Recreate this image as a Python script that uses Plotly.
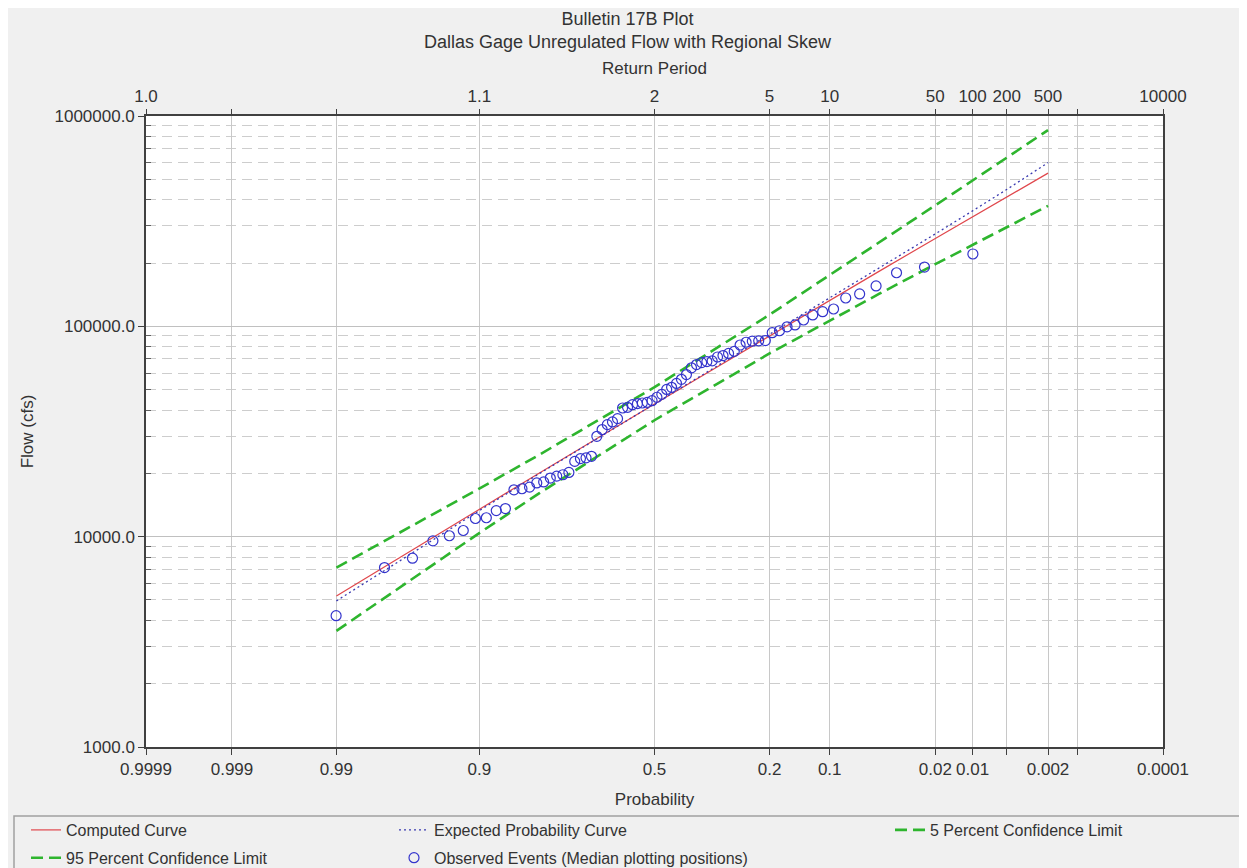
import plotly.graph_objects as go
from statistics import NormalDist

# ---------------- data ----------------
curve_prob = [0.99, 0.95, 0.9, 0.8, 0.5, 0.2, 0.1, 0.05, 0.02, 0.01, 0.005, 0.002]
computed_curve = [5220, 9720, 13510, 20100, 42760, 90270, 133100, 183000, 261700, 331700, 411900, 535000]
expected_curve = [4950, 9450, 13300, 19950, 42760, 91000, 135500, 188500, 275000, 354000, 447000, 600000]
conf_5pct = [7130, 12500, 16920, 24530, 51400, 113600, 174800, 250300, 376100, 493500, 633500, 856500]
conf_95pct = [3565, 7197, 10400, 16110, 35770, 74340, 106800, 142900, 197500, 244200, 296400, 373800]

obs_prob = [0.00994, 0.02415, 0.03835, 0.05256, 0.06676, 0.08097, 0.09517, 0.10938, 0.12358, 0.13778,
            0.15199, 0.16619, 0.18040, 0.19460, 0.20881, 0.22301, 0.23722, 0.25142, 0.26563, 0.27983,
            0.29403, 0.30824, 0.32244, 0.33665, 0.35085, 0.36506, 0.37926, 0.39347, 0.40767, 0.42188,
            0.43608, 0.45028, 0.46449, 0.47869, 0.49290, 0.50710, 0.52131, 0.53551, 0.54972, 0.56392,
            0.57813, 0.59233, 0.60653, 0.62074, 0.63494, 0.64915, 0.66335, 0.67756, 0.69176, 0.70597,
            0.72017, 0.73438, 0.74858, 0.76278, 0.77699, 0.79119, 0.80540, 0.81960, 0.83381, 0.84801,
            0.86222, 0.87642, 0.89063, 0.90483, 0.91903, 0.93324, 0.94744, 0.96165, 0.97585, 0.99006]
obs_flow = [220800, 191400, 179800, 155600, 142600, 136400, 120900, 117400, 113300, 107200,
            101500, 99500, 95300, 93300, 85600, 85300, 85000, 84000, 81500, 76000,
            74300, 72600, 71500, 68500, 68000, 67200, 65800, 63500, 59000, 56000,
            53500, 51300, 50100, 47500, 46000, 44300, 43500, 43200, 42900, 42400,
            41200, 40900, 36400, 35100, 34100, 32300, 30000, 24100, 23700, 23500,
            22800, 20200, 19700, 19400, 19000, 18200, 18000, 17200, 16900, 16700,
            13600, 13300, 12300, 12200, 10700, 10100, 9550, 7900, 7130, 4210]

tick_prob = [0.9999, 0.999, 0.99, 0.9, 0.5, 0.2, 0.1, 0.02, 0.01, 0.005, 0.002, 0.001, 0.0001]
prob_labels = ["0.9999", "0.999", "0.99", "0.9", "0.5", "0.2", "0.1", "0.02", "0.01", "", "0.002", "", "0.0001"]
return_labels = ["1.0", "", "", "1.1", "2", "5", "10", "50", "100", "200", "500", "", "10000"]

y_major = [1000, 10000, 100000, 1000000]
y_major_labels = ["1000.0", "10000.0", "100000.0", "1000000.0"]
y_minor = [m * d for d in (1000, 10000, 100000) for m in range(2, 10)]

# ------------- probability scale (normal quantile) -------------
nd = NormalDist()


def zpos(p):
    return nd.inv_cdf(1 - p)


xr = [zpos(0.9999), zpos(0.0001)]
cx = [zpos(p) for p in curve_prob]

FONT = "Liberation Sans, Arial, sans-serif"
TXT = "#333333"

OFF = 8  # page body margin
W, H = 1239, 860
L, R, T, B = 138, 84, 108, 121
PW, PH = W - L - R, H - T - B


def px(xpage):
    return (xpage - OFF - L) / PW


def py(ypage):
    return (OFF + H - B - ypage) / PH


fig = go.Figure()
fig.add_trace(go.Scatter(x=cx, y=computed_curve, mode="lines", name="Computed Curve",
                         line=dict(color="#e0474c", width=1.2),
                         legend="legend", legendgroup="g1"))
fig.add_trace(go.Scatter(x=cx, y=expected_curve, mode="lines", name="Expected Probability Curve",
                         line=dict(color="#3a3ab0", width=1.3, dash="2px,3px"),
                         legend="legend2", legendgroup="g2"))
fig.add_trace(go.Scatter(x=cx, y=conf_5pct, mode="lines", name="5 Percent Confidence Limit",
                         line=dict(color="#2eb52e", width=2.6, dash="12px,6px"),
                         legend="legend3", legendgroup="g3"))
fig.add_trace(go.Scatter(x=cx, y=conf_95pct, mode="lines", name="95 Percent Confidence Limit",
                         line=dict(color="#2eb52e", width=2.6, dash="12px,6px"),
                         legend="legend", legendgroup="g4"))
fig.add_trace(go.Scatter(x=[zpos(p) for p in obs_prob], y=obs_flow, mode="markers",
                         name="Observed Events (Median plotting positions)",
                         marker=dict(symbol="circle-open", size=10, color="#3434cc",
                                     line=dict(width=1.2, color="#3434cc")),
                         legend="legend2", legendgroup="g5"))
# invisible trace to activate the top (return period) axis
fig.add_trace(go.Scatter(x=xr, y=[1000, 1000], xaxis="x2", mode="lines",
                         line=dict(width=0), showlegend=False, hoverinfo="skip"))

tickz = [zpos(p) for p in tick_prob]

fig.update_layout(
    width=W, height=H,
    paper_bgcolor="#f0f0f0", plot_bgcolor="#ffffff",
    margin=dict(l=L, r=R, t=T, b=B, autoexpand=False),
    font=dict(family=FONT, size=17, color=TXT),
    title=dict(text="Bulletin 17B Plot<br>Dallas Gage Unregulated Flow with Regional Skew",
               x=0.5, xanchor="center", y=1 - 17 / H, yanchor="top",
               font=dict(family=FONT, size=18, color=TXT)),
    xaxis=dict(range=xr, tickmode="array", tickvals=tickz, ticktext=prob_labels,
               tickangle=0, ticks="outside", ticklen=6, tickcolor="#404040",
               showline=True, linecolor="#404040", linewidth=1.5, mirror=True,
               showgrid=True, gridcolor="#c8c8c8", gridwidth=1, zeroline=False,
               automargin=False,
               title=dict(text="Probability", standoff=15, font=dict(size=17)),
               tickfont=dict(size=17, color=TXT)),
    xaxis2=dict(range=xr, overlaying="x", side="top", tickmode="array", tickvals=tickz,
                ticktext=return_labels, tickangle=0, ticks="outside", ticklen=6,
                tickcolor="#404040", showgrid=False, zeroline=False, showline=False,
                automargin=False,
                title=dict(text="Return Period", standoff=8, font=dict(size=17)),
                tickfont=dict(size=17, color=TXT)),
    yaxis=dict(type="log", range=[3, 6], tickmode="array", tickvals=y_major,
               ticktext=y_major_labels, ticks="outside", ticklen=6, tickcolor="#404040",
               showline=True, linecolor="#404040", linewidth=1.5, mirror=True,
               showgrid=True, gridcolor="#c0c0c0", gridwidth=1, zeroline=False,
               automargin=False,
               minor=dict(tickmode="array", tickvals=y_minor, ticks="inside", ticklen=5,
                          tickcolor="#606060", showgrid=True, gridcolor="#cdcdcd",
                          griddash="10px,6px", gridwidth=1),
               title=dict(text="Flow (cfs)", standoff=17, font=dict(size=17)),
               tickfont=dict(size=17, color=TXT)),
    showlegend=True,
)

leg_common = dict(orientation="v", bgcolor="rgba(0,0,0,0)", borderwidth=0,
                  font=dict(family=FONT, size=16, color=TXT), tracegroupgap=4,
                  yanchor="top", y=py(813), xanchor="left")
fig.update_layout(
    legend=dict(x=px(26), **leg_common),
    legend2=dict(x=px(394), **leg_common),
    legend3=dict(x=px(890), **leg_common),
)

# legend frame
fig.add_shape(type="rect", xref="paper", yref="paper",
              x0=px(14), x1=px(1252), y0=py(816), y1=py(880),
              line=dict(color="#a0a0a0", width=1.5), fillcolor="rgba(0,0,0,0)", layer="above")

fig.write_html("out.html")
